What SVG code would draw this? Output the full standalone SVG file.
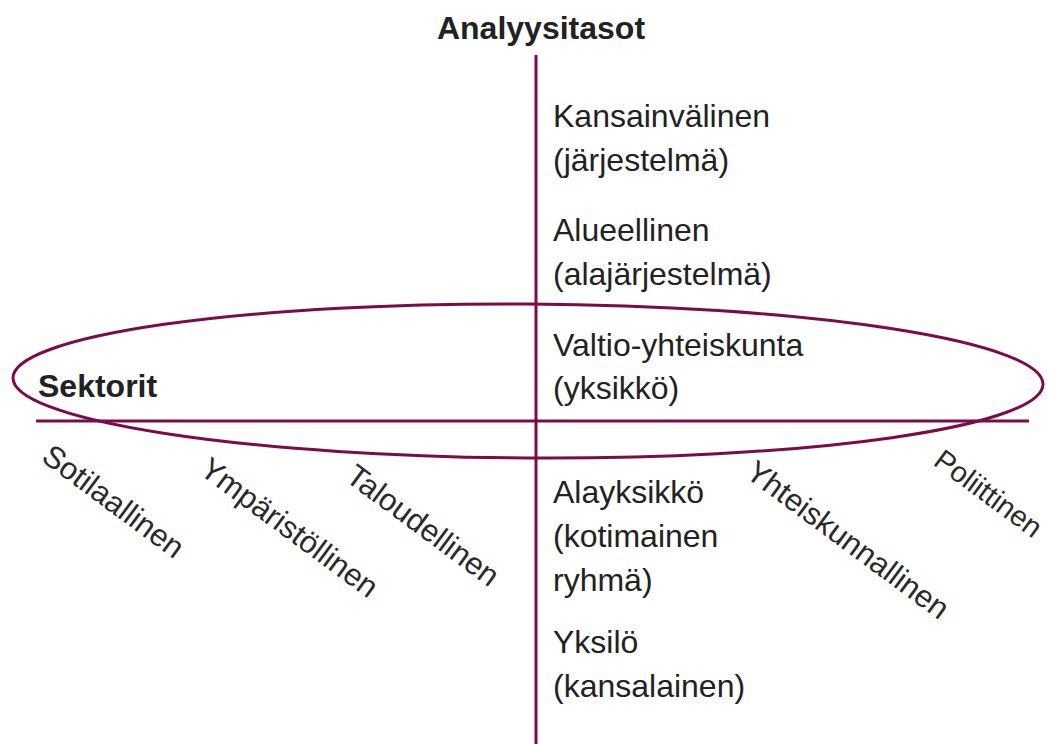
<svg xmlns="http://www.w3.org/2000/svg" width="1049" height="744" viewBox="0 0 1049 744">
<style>
.ln{stroke:#7a0d48;stroke-width:3;fill:none}
.t{font-family:"Liberation Sans",Arial,sans-serif;font-size:32px;fill:#222}
.b{font-family:"Liberation Sans",Arial,sans-serif;font-size:32px;font-weight:bold;fill:#222}
.r{font-family:"Liberation Sans",Arial,sans-serif;font-size:31px;fill:#2a2a2a}
</style>
<rect width="1049" height="744" fill="#fff"/>
<g id="connectors">
<line class="ln" x1="536" y1="55" x2="536" y2="744"/>
<line class="ln" x1="36" y1="421" x2="1029" y2="421"/>
<ellipse id="sectors-ellipse" class="ln" cx="528" cy="381" rx="515" ry="77" transform="rotate(0.35 528 381)"/>
</g>
<g id="axis-titles">
<text class="b" x="541" y="39" text-anchor="middle">Analyysitasot</text>
<text class="b" x="38" y="397">Sektorit</text>
</g>
<g id="level-kansainvalinen">
<text class="t" x="553" y="127">Kansainvälinen</text>
<text class="t" x="553" y="171">(järjestelmä)</text>
</g>
<g id="level-alueellinen">
<text class="t" x="553" y="241">Alueellinen</text>
<text class="t" x="553" y="285">(alajärjestelmä)</text>
</g>
<g id="level-valtio">
<text class="t" x="553" y="356">Valtio-yhteiskunta</text>
<text class="t" x="553" y="399">(yksikkö)</text>
</g>
<g id="level-alayksikko">
<text class="t" x="553" y="503">Alayksikkö</text>
<text class="t" x="553" y="547">(kotimainen</text>
<text class="t" x="553" y="591">ryhmä)</text>
</g>
<g id="level-yksilo">
<text class="t" x="553" y="653">Yksilö</text>
<text class="t" x="553" y="697">(kansalainen)</text>
</g>
<g id="sector-sotilaallinen"><text class="r" transform="translate(40 460) rotate(36.5)">Sotilaallinen</text></g>
<g id="sector-ymparistollinen"><text class="r" transform="translate(198 473) rotate(36.5)">Ympäristöllinen</text></g>
<g id="sector-taloudellinen"><text class="r" transform="translate(344 480) rotate(36.5)">Taloudellinen</text></g>
<g id="sector-yhteiskunnallinen"><text class="r" transform="translate(744 476) rotate(36.5)">Yhteiskunnallinen</text></g>
<g id="sector-poliittinen"><text class="r" style="font-size:29px" transform="translate(932 464) rotate(36.5)">Poliittinen</text></g>
</svg>
